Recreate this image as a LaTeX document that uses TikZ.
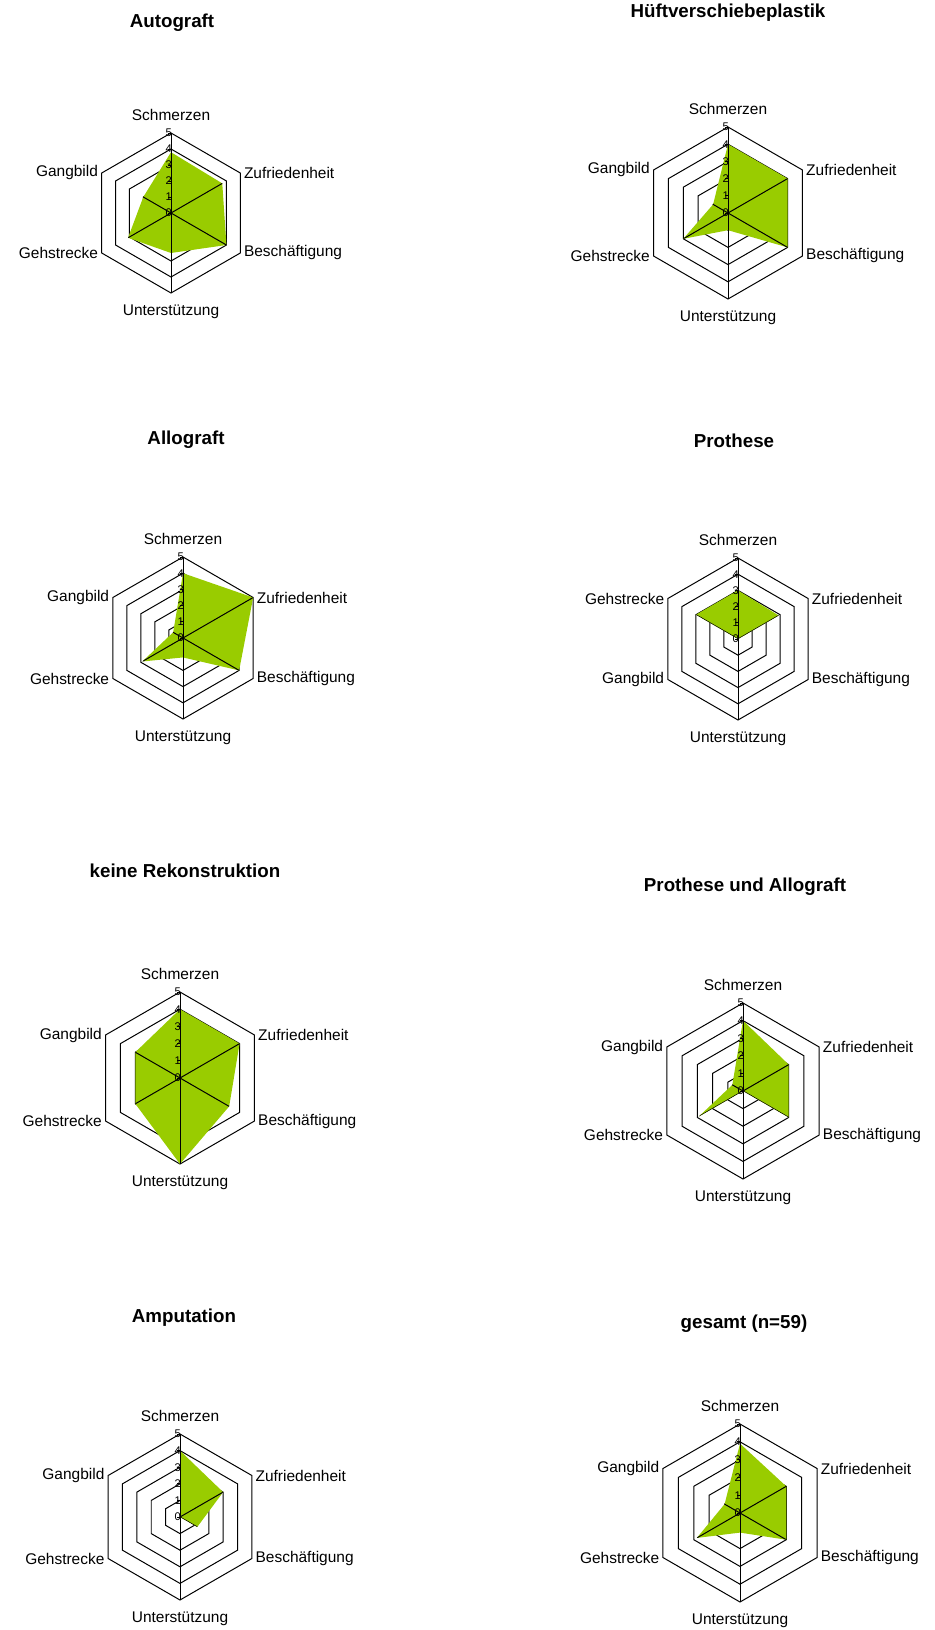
\documentclass[tikz,border=0pt]{standalone}
\usepackage{fontspec}
\setmainfont{Liberation Sans}
\usepackage{tikz}
\usetikzlibrary{positioning}

\definecolor{limegreen}{HTML}{99CC00}

\tikzset{
  ring/.style={draw=black, line width=0.85pt},
  datafill/.style={fill=limegreen},
  axlabel/.style={inner sep=0pt, font=\fontsize{13.2}{15}\selectfont},
  ticklabel/.style={inner sep=0pt, anchor=east, font=\fontsize{9.5}{10}\selectfont},
  charttitle/.style={inner sep=0pt, font=\fontsize{16}{19}\selectfont\bfseries}
}

% #1 name, #2 centre, #3 radius, #4 values (top, clockwise), #5 upper left, #6 lower left
\newcommand{\radar}[6]{%
  \begin{scope}[shift={(#2)}]
    \coordinate (#1) at (0,0);
    \foreach \k in {1,...,5}
      \draw[ring] (90:{\k*#3/5}) -- (30:{\k*#3/5}) -- (-30:{\k*#3/5}) -- (-90:{\k*#3/5})
        -- (-150:{\k*#3/5}) -- (150:{\k*#3/5}) -- cycle;
    \foreach \k in {1,...,6}
      \coordinate (#1-o\k) at ({150-60*\k}:#3);
    \foreach \v [count=\i] in {#4}
      \coordinate (#1-\i) at ({150-60*\i}:{\v*#3/5});
    \fill[datafill] (#1-1) -- (#1-2) -- (#1-3) -- (#1-4) -- (#1-5) -- (#1-6) -- cycle;
    \begin{scope}
      \clip (#1-1) -- (#1-2) -- (#1-3) -- (#1-4) -- (#1-5) -- (#1-6) -- cycle;
      \draw[ring] (#1-o2) -- (#1-o5) (#1-o3) -- (#1-o6);
    \end{scope}
    \draw[ring] (#1-o1) -- (#1-o4);
    \foreach \k in {0,...,5} {
      \draw[ring] (0,{\k*#3/5}) -- ++(-3,0);
      \node[ticklabel] at (1,{\k*#3/5}) {\k};
    }
    \node[axlabel, above=10pt of #1-o1] (#1-s) {Schmerzen};
    \node[axlabel, right=3pt of #1-o2] (#1-z) {Zufriedenheit};
    \node[axlabel, right=3pt of #1-o3] (#1-b) {Beschäftigung};
    \node[axlabel, below=10pt of #1-o4] (#1-u) {Unterstützung};
    \node[axlabel, left=3pt of #1-o5] (#1-ll) {#6};
    \node[axlabel, left=3pt of #1-o6] (#1-ul) {#5};
  \end{scope}}

\begin{document}
\begin{tikzpicture}[x=0.03cm, y=0.03cm]
  \useasboundingbox (0,0) rectangle (935,-1630);

  % first row
  \node[charttitle] (autograft) at (172,-23) {Autograft};
  \radar{auto}{171,-213}{80}{3.8,3.7,4.0,2.5,3.1,2.0}{Gangbild}{Gehstrecke}
  \node[charttitle] (hueft) at (728,-13) {Hüftverschiebeplastik};
  \radar{hvp}{728,-213}{86}{4,4,4,1,3,1}{Gangbild}{Gehstrecke}

  % second row
  \node[charttitle] (allograft) at (186,-440) {Allograft};
  \radar{allo}{183,-638}{81}{4,5,4,1.2,2.9,0.7}{Gangbild}{Gehstrecke}
  \node[charttitle] (prothese) at (734,-441) {Prothese};
  \radar{proth}{738,-639}{81}{3,2.9,0,0,0,3}{Gehstrecke}{Gangbild}

  % third row
  \node[charttitle] (keine) at (185,-871) {keine Rekonstruktion};
  \radar{keine}{180,-1078}{86}{4,4,3.3,5,3,3}{Gangbild}{Gehstrecke}
  \node[charttitle] (pua) at (745,-887) {Prothese und Allograft};
  \radar{pua}{743,-1091}{88}{4,3,3,0,2.9,0.7}{Gangbild}{Gehstrecke}

  % fourth row
  \node[charttitle] (amputation) at (184,-1318) {Amputation};
  \radar{amp}{180,-1517}{83}{4,3,1.2,0,0,0}{Gangbild}{Gehstrecke}
  \node[charttitle] (gesamt) at (744,-1324) {gesamt (n=59)};
  \radar{ges}{740,-1513}{89}{3.9,3,3,1.1,2.8,1}{Gangbild}{Gehstrecke}
\end{tikzpicture}
\end{document}
